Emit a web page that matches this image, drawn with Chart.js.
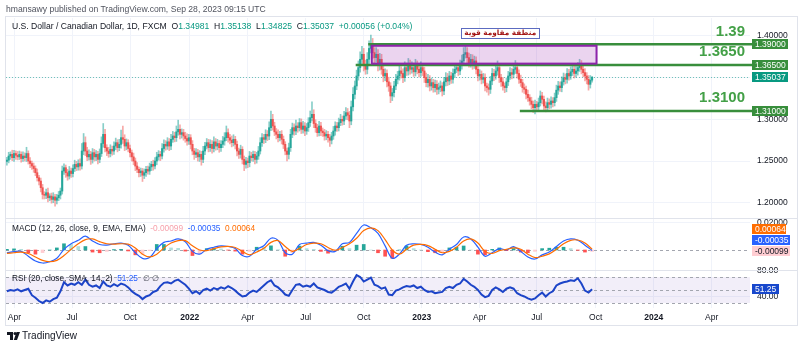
<!DOCTYPE html>
<html><head><meta charset="utf-8">
<script src="https://cdn.jsdelivr.net/npm/chart.js@4.4.0/dist/chart.umd.min.js"></script>
<style>
html,body{margin:0;padding:0;background:#fff;width:800px;height:348px;overflow:hidden;font-family:"Liberation Sans",Arial,sans-serif}
#c{position:absolute;left:0;top:0}
.t{position:absolute;white-space:nowrap;line-height:1}
</style></head><body>
<canvas id="c" width="800" height="348"></canvas>
<div class="t" style="left:6px;top:5px;font-size:8.6px;color:#50535e">hmansawy published on TradingView.com, Sep 28, 2023 09:15 UTC</div>
<div class="t" style="left:12px;top:22px;font-size:8.6px;color:#131722">U.S. Dollar / Canadian Dollar, 1D, FXCM&nbsp; O<span style="color:#089981">1.34981</span>&nbsp; H<span style="color:#089981">1.35138</span>&nbsp; L<span style="color:#089981">1.34825</span>&nbsp; C<span style="color:#089981">1.35037</span>&nbsp; <span style="color:#089981">+0.00056 (+0.04%)</span></div>
<div class="t" style="left:12px;top:224px;font-size:8.3px;color:#131722">MACD (12, 26, close, 9, EMA, EMA)&nbsp; <span style="color:#f7a1ab">-0.00099</span>&nbsp; <span style="color:#2962ff">-0.00035</span>&nbsp; <span style="color:#ff6d00">0.00064</span></div>
<div class="t" style="left:12px;top:274px;font-size:8.3px;color:#131722">RSI (20, close, SMA, 14, 2)&nbsp; <span style="color:#2962ff">51.25</span>&nbsp; <span style="color:#50535e">∅ ∅</span></div>
<div class="t" style="left:7px;top:331px;font-size:10px;color:#131722;display:flex;align-items:center;gap:2px">
<svg width="13" height="8" viewBox="0 0 13 8"><path d="M0 0h6v8H3V3H0z" fill="#131722"/><circle cx="8" cy="1.6" r="1.5" fill="#131722"/><path d="M9.5 0H13L10 8H6.8z" fill="#131722"/></svg>TradingView</div>
<script>
// ---------- DATA ----------
const BAR_STEP = 2;      // trading days per price bar
const MACD_STEP = 8;     // trading days per MACD point
const RSI_STEP = 4;      // trading days per RSI point
const firstOpen = 1.2495;

const closes = [
 1.251,1.256,1.258,1.254,1.259,1.257,1.255,1.258,1.253,1.256,
 1.254,1.259,1.250,1.247,1.244,1.241,1.236,1.230,1.226,1.218,
 1.210,1.209,1.212,1.206,1.208,1.204,1.207,1.203,1.206,1.209,
 1.214,1.238,1.242,1.236,1.232,1.238,1.235,1.241,1.246,1.243,
 1.247,1.244,1.262,1.272,1.262,1.255,1.258,1.252,1.260,1.255,
 1.258,1.252,1.259,1.271,1.282,1.266,1.262,1.259,1.264,1.262,
 1.268,1.272,1.266,1.270,1.278,1.276,1.268,1.272,1.265,1.260,
 1.255,1.250,1.244,1.240,1.236,1.238,1.233,1.236,1.240,1.238,
 1.243,1.246,1.244,1.250,1.255,1.258,1.256,1.265,1.270,1.268,
 1.273,1.268,1.276,1.280,1.278,1.285,1.288,1.282,1.284,1.280,
 1.277,1.274,1.278,1.270,1.262,1.258,1.260,1.255,1.258,1.252,
 1.262,1.268,1.272,1.266,1.270,1.265,1.273,1.268,1.271,1.266,
 1.270,1.274,1.278,1.284,1.278,1.275,1.272,1.276,1.270,1.262,
 1.258,1.264,1.252,1.246,1.250,1.248,1.256,1.254,1.258,1.252,
 1.256,1.262,1.272,1.278,1.276,1.282,1.280,1.290,1.300,1.292,
 1.285,1.282,1.278,1.282,1.276,1.270,1.262,1.258,1.266,1.282,
 1.290,1.286,1.292,1.290,1.296,1.288,1.292,1.286,1.290,1.296,
 1.302,1.306,1.295,1.290,1.284,1.292,1.286,1.284,1.280,1.282,
 1.278,1.275,1.280,1.286,1.292,1.290,1.296,1.300,1.298,1.304,
 1.308,1.305,1.298,1.315,1.330,1.340,1.352,1.362,1.372,1.378,
 1.365,1.360,1.372,1.385,1.390,1.380,1.374,1.378,1.365,1.372,
 1.360,1.352,1.355,1.345,1.340,1.328,1.332,1.340,1.348,1.352,
 1.358,1.355,1.350,1.362,1.358,1.365,1.360,1.362,1.357,1.364,
 1.360,1.356,1.362,1.358,1.350,1.344,1.348,1.340,1.344,1.338,
 1.342,1.336,1.338,1.340,1.334,1.345,1.350,1.346,1.352,1.348,
 1.355,1.360,1.362,1.358,1.365,1.370,1.378,1.380,1.374,1.368,
 1.372,1.366,1.370,1.360,1.352,1.354,1.348,1.350,1.340,1.338,
 1.336,1.346,1.355,1.352,1.358,1.362,1.350,1.345,1.340,1.338,
 1.345,1.352,1.356,1.354,1.360,1.362,1.355,1.348,1.344,1.338,
 1.336,1.330,1.326,1.322,1.318,1.314,1.318,1.315,1.320,1.328,
 1.324,1.316,1.314,1.320,1.318,1.322,1.320,1.326,1.335,1.340,
 1.338,1.345,1.350,1.348,1.355,1.352,1.357,1.360,1.355,1.358,
 1.362,1.365,1.360,1.356,1.352,1.348,1.342,1.347,1.35037];

// upper / lower shadows in pips
const wickUp = [
 35,45,30,50,38,32,45,40,30,50, 38,75,32,40,28,36,32,45,28,36,
 40,32,45,55,28,36,50,32,40,45, 36,60,45,32,40,55,36,45,50,36,
 45,55,90,110,70,45,55,36,50,40, 45,36,55,80,130,60,36,45,55,40,
 50,55,36,60,90,140,55,45,36,40, 32,45,36,40,28,36,32,45,36,40,
 45,36,50,40,55,45,36,60,55,45, 50,40,60,55,45,70,110,55,45,40,
 45,55,40,36,45,32,50,40,45,36, 55,45,50,40,55,45,60,40,50,36,
 45,55,60,80,45,40,50,55,36,40, 36,50,32,40,45,36,55,45,40,36,
 45,55,60,50,40,55,45,70,100,60, 45,40,55,36,45,40,32,36,55,60,
 55,45,70,40,50,45,55,40,50,60, 80,150,55,45,40,55,45,36,40,45,
 36,40,45,55,50,45,55,60,40,55, 60,50,45,70,80,60,70,80,90,95,
 70,60,80,90,110,70,60,80,55,70, 60,50,55,45,55,40,50,55,60,55,
 60,50,55,70,55,80,60,70,55,80, 60,55,70,50,45,55,60,45,55,40,
 50,45,55,60,40,55,60,50,55,45, 55,60,50,45,60,70,80,90,60,55,
 60,55,58,50,45,55,40,50,45,36, 45,55,60,50,58,80,45,40,50,36,
 45,55,60,50,70,85,55,45,50,40, 45,40,50,36,45,40,50,36,55,60,
 45,40,50,55,45,50,40,55,60,55, 50,60,55,45,58,50,60,55,45,55,
 60,70,55,45,50,40,45,55,12];
const wickDn = [
 45,32,40,36,45,50,36,32,45,36, 40,45,36,50,40,45,36,40,45,50,
 55,45,40,50,36,45,40,70,45,36, 45,36,40,55,50,36,45,40,36,45,
 40,50,36,45,55,45,40,60,45,50, 45,55,40,36,45,50,55,45,40,50,
 40,45,50,36,45,50,55,45,40,50, 50,45,55,40,50,45,75,40,45,36,
 40,45,50,36,45,40,55,36,45,50, 40,55,45,36,50,45,40,55,45,50,
 45,50,40,55,45,60,40,50,55,70, 40,45,36,50,45,55,40,50,45,55,
 45,40,50,36,55,45,50,40,55,60, 50,45,55,75,45,60,50,40,45,55,
 45,40,36,45,50,40,55,45,36,50, 45,55,50,40,55,50,45,80,55,45,
 40,50,45,55,40,50,45,55,40,45, 45,40,50,55,45,40,55,45,50,45,
 55,75,45,40,50,45,40,36,50,45, 40,55,80,45,50,55,45,50,55,60,
 70,60,55,60,55,70,60,55,70,60, 60,70,55,60,65,80,55,50,45,55,
 50,55,60,45,55,50,58,45,55,50, 55,50,45,55,58,50,55,60,50,55,
 50,60,55,50,60,45,50,55,45,50, 45,50,40,55,45,50,55,45,60,55,
 55,60,50,55,58,50,55,45,60,55, 70,50,45,55,40,50,58,55,50,60,
 50,45,40,55,45,50,55,50,45,55, 50,55,45,50,55,58,75,55,45,40,
 55,60,50,45,55,45,50,40,45,50, 45,50,40,55,45,50,40,45,55,45,
 50,45,55,50,58,55,70,45,25];

const macdLine = [
 -0.0020,-0.0012,-0.0010,-0.0045,-0.0080,-0.0094,-0.0085,-0.0060,0.0005,0.0045,
 0.0070,0.0100,0.0065,0.0040,0.0035,0.0045,0.0050,0.0035,-0.0020,-0.0060,
 -0.0055,0.0010,0.0055,0.0065,0.0080,0.0060,-0.0010,-0.0030,0.0005,0.0020,
 0.0030,0.0025,0.0010,-0.0040,-0.0045,0.0005,0.0030,0.0085,0.0070,-0.0020,
 -0.0030,0.0040,0.0050,0.0055,0.0035,-0.0005,-0.0010,0.0045,0.0055,0.0120,
 0.0180,0.0160,0.0120,0.0030,-0.0060,-0.0030,0.0035,0.0045,0.0040,0.0020,
 -0.0015,-0.0035,0.0005,0.0040,0.0094,0.0080,0.0020,-0.0045,-0.0020,0.0010,
 0.0000,0.0025,-0.0010,-0.0050,-0.0065,-0.0035,-0.0015,0.0025,0.0065,0.0080,
 0.0070,0.0035,-0.00035];
const signalLine = [
 -0.0025,-0.0020,-0.0015,-0.0025,-0.0050,-0.0075,-0.0085,-0.0075,-0.0040,0.0005,
 0.0045,0.0075,0.0080,0.0060,0.0045,0.0042,0.0045,0.0042,0.0015,-0.0030,
 -0.0050,-0.0030,0.0015,0.0050,0.0068,0.0068,0.0030,0.0000,-0.0005,0.0010,
 0.0022,0.0026,0.0018,-0.0010,-0.0035,-0.0015,0.0012,0.0055,0.0068,0.0025,
 -0.0010,0.0012,0.0040,0.0050,0.0045,0.0018,-0.0002,0.0018,0.0045,0.0085,
 0.0140,0.0160,0.0140,0.0075,0.0000,-0.0030,0.0005,0.0035,0.0040,0.0032,
 0.0005,-0.0020,-0.0010,0.0020,0.0065,0.0080,0.0050,-0.0010,-0.0025,-0.0005,
 0.0005,0.0015,0.0005,-0.0030,-0.0055,-0.0045,-0.0028,0.0005,0.0045,0.0070,
 0.0072,0.0050,0.00064];
const macdHist = [
 0.0005,0.0008,0.0005,-0.0020,-0.0030,-0.0019,0.0000,0.0015,0.0045,0.0040,
 0.0025,0.0025,-0.0015,-0.0020,-0.0010,0.0003,0.0005,-0.0007,-0.0035,-0.0030,
 -0.0005,0.0040,0.0040,0.0015,0.0012,-0.0008,-0.0040,-0.0030,0.0010,0.0010,
 0.0008,-0.0001,-0.0008,-0.0030,-0.0010,0.0020,0.0018,0.0030,0.0002,-0.0045,
 -0.0020,0.0028,0.0010,0.0005,-0.0010,-0.0023,-0.0008,0.0027,0.0010,0.0035,
 0.0040,0.0000,-0.0020,-0.0045,-0.0060,0.0000,0.0030,0.0010,0.0000,-0.0012,
 -0.0020,-0.0015,0.0015,0.0020,0.0029,0.0000,-0.0030,-0.0035,0.0005,0.0015,
 -0.0005,0.0010,-0.0015,-0.0020,-0.0010,0.0010,0.0013,0.0020,0.0020,0.0010,
 -0.0002,-0.0015,-0.00099];
const rsiValues = [
 48,50,49,51,48,50,52,42,38,33, 30,34,32,36,38,48,62,57,60,58,
 62,58,66,58,55,57,53,63,57,55, 59,56,60,58,54,48,44,41,36,40,
 42,47,49,56,61,62,60,64,66,62, 58,52,45,48,44,50,52,49,53,51,
 54,52,56,53,49,44,40,41,46,49, 47,52,57,62,65,57,54,49,43,41,
 50,58,59,55,57,55,60,54,52,50, 47,46,50,55,57,60,52,63,73,70,
 63,66,69,58,56,52,54,43,42,49, 51,54,56,55,57,53,55,50,47,48,
 45,46,47,53,55,53,58,60,67,63, 58,55,50,43,39,41,50,54,51,47,
 52,54,52,45,42,40,37,35,37,42, 46,40,45,48,57,60,62,63,65,64,
 68,60,49,46,51.25];

// time axis (trading-day index) and labels
const timeTickDays   = [8.5, 73, 138, 205, 270, 335, 400, 465, 530, 594, 660, 725, 790];
const timeTickLabels = ['Apr','Jul','Oct','2022','Apr','Jul','Oct','2023','Apr','Jul','Oct','2024','Apr'];
const priceTicks = [1.20, 1.25, 1.30, 1.35, 1.40];
const macdTicks = [0.02];
const rsiTicks = [80, 40];
const rsiBands = [70, 50, 30];

// drawings
const levelPrices = [1.39, 1.365, 1.31];
const levelStartDays = [405, 391, 575];
const levelTexts = ['1.39', '1.3650', '1.3100'];
const levelTextPrices = [1.405, 1.3808, 1.3256];
const zoneDays = [409, 661];
const zonePrices = [1.39, 1.365];
const zoneNote = 'منطقة مقاومة قوية';
const zoneNoteAt = [553, 1.4035];
const lastPrice = 1.35037;
const lastMacd = -0.00035, lastSignal = 0.00064, lastHist = -0.00099, lastRsi = 51.25;

// ---------- BUILD ----------
const FONT = '"Liberation Sans", Arial, sans-serif';
const opens = closes.map((c, i) => i === 0 ? firstOpen : closes[i - 1]);
const highs = closes.map((c, i) => Math.max(opens[i], c) + (wickUp[i] ?? 40) / 10000);
const lows  = closes.map((c, i) => Math.min(opens[i], c) - (wickDn[i] ?? 40) / 10000);
const upC = '#26a69a', dnC = '#ef5350';
const isUp = closes.map((c, i) => c >= opens[i]);

const wickData = closes.map((c, i) => ({x: i * BAR_STEP, y: [lows[i], highs[i]]}));
const bodyData = closes.map((c, i) => ({x: i * BAR_STEP, y: [opens[i], c === opens[i] ? c + 0.0002 : c]}));
const histColors = macdHist.map((h, i) => {
  const prev = i ? macdHist[i - 1] : 0;
  if (h >= 0) return h >= prev ? '#26a69a' : '#b2dfdb';
  return h <= prev ? '#ff5252' : '#ffcdd2';
});

const yFit = s => { s.width = 47; };
const commonY = (extra) => Object.assign({
  type: 'linear', position: 'right', stack: 'panes',
  grid: {color: '#f0f3fa', drawTicks: false}, border: {display: false},
  afterFit: yFit
}, extra);

const overlay = {
  id: 'overlay',
  beforeDatasetsDraw(chart) {
    const {ctx, chartArea: a, scales: s} = chart;
    ctx.save();
    const y70 = s.yRsi.getPixelForValue(70), y30 = s.yRsi.getPixelForValue(30);
    ctx.fillStyle = 'rgba(126,87,194,0.1)';
    ctx.fillRect(a.left, y70, a.right - a.left, y30 - y70);
    ctx.lineWidth = 1;
    ctx.strokeStyle = '#a3a6af';
    ctx.setLineDash([3, 3]);
    const hl = (y) => { ctx.beginPath(); ctx.moveTo(a.left, y); ctx.lineTo(a.right, y); ctx.stroke(); };
    rsiBands.forEach(v => hl(Math.round(s.yRsi.getPixelForValue(v)) + 0.5));
    hl(Math.round(s.yMacd.getPixelForValue(0)) + 0.5);
    ctx.strokeStyle = 'rgba(8,153,129,0.55)';
    ctx.setLineDash([1, 2]);
    hl(Math.round(s.y.getPixelForValue(lastPrice)) + 0.5);
    ctx.restore();
  },
  afterDraw(chart) {
    const {ctx, chartArea: a, scales: s} = chart;
    const X = v => s.x.getPixelForValue(v), Y = v => s.y.getPixelForValue(v);
    ctx.save();
    ctx.save();
    ctx.beginPath(); ctx.rect(a.left, s.y.top, a.right - a.left + 3, s.y.bottom - s.y.top); ctx.clip();
    const zx1 = X(zoneDays[0]), zx2 = X(zoneDays[1]);
    const zy1 = Y(zonePrices[0]), zy2 = Y(zonePrices[1]);
    ctx.fillStyle = 'rgba(156,39,176,0.2)';
    ctx.fillRect(zx1, zy1, zx2 - zx1, zy2 - zy1);
    ctx.strokeStyle = '#388e3c'; ctx.lineWidth = 2.5;
    levelPrices.forEach((p, i) => {
      const y = Y(p);
      ctx.beginPath(); ctx.moveTo(X(levelStartDays[i]), y); ctx.lineTo(a.right + 3, y); ctx.stroke();
    });
    ctx.strokeStyle = '#8e24aa'; ctx.lineWidth = 2;
    ctx.strokeRect(zx1, zy1 + 1.5, zx2 - zx1, zy2 - zy1 - 3);
    ctx.restore();
    ctx.fillStyle = '#43a047';
    ctx.font = 'bold 15px ' + FONT;
    ctx.textAlign = 'right'; ctx.textBaseline = 'middle';
    levelTexts.forEach((t, i) => ctx.fillText(t, a.right - 5, Y(levelTextPrices[i])));
    ctx.font = 'bold 7.3px "DejaVu Sans", sans-serif';
    ctx.textAlign = 'center';
    const nw = ctx.measureText(zoneNote).width + 6;
    const nx = X(zoneNoteAt[0]), ny = Y(zoneNoteAt[1]);
    ctx.fillStyle = '#ffffff';
    ctx.fillRect(nx - nw / 2, ny - 5, nw, 10);
    ctx.strokeStyle = '#5c6bc0'; ctx.lineWidth = 1;
    ctx.strokeRect(Math.round(nx - nw / 2) + 0.5, Math.round(ny - 5) + 0.5, Math.round(nw), 10);
    ctx.fillStyle = '#a31515';
    ctx.fillText(zoneNote, nx, ny + 0.5);
    ctx.strokeStyle = '#e0e3eb'; ctx.lineWidth = 1;
    [s.y.bottom, s.yMacd.bottom].forEach(yb => {
      const y = Math.round(yb) + 0.5;
      ctx.beginPath(); ctx.moveTo(6, y); ctx.lineTo(797, y); ctx.stroke();
    });
    ctx.strokeRect(5.5, 16.5, 792, 309);
    const tag = (y, w, bg, fg, text) => {
      ctx.fillStyle = bg;
      ctx.fillRect(a.right + 2, Math.round(y - 5), w, 10);
      ctx.fillStyle = fg; ctx.font = '8.5px ' + FONT;
      ctx.textAlign = 'left'; ctx.textBaseline = 'middle';
      ctx.fillText(text, a.right + 5, Math.round(y - 5) + 5.5);
    };
    levelPrices.forEach(p => tag(Y(p), 36, '#388e3c', '#ffffff', p.toFixed(5)));
    tag(Y(lastPrice), 36, '#089981', '#ffffff', lastPrice.toFixed(5));
    const yH = s.yMacd.getPixelForValue(lastHist);
    const yM = Math.min(s.yMacd.getPixelForValue(lastMacd), yH - 11);
    const yS = Math.min(s.yMacd.getPixelForValue(lastSignal), yM - 11);
    tag(yH, 38, '#ffcdd2', '#131722', lastHist.toFixed(5));
    tag(yM, 38, '#2962ff', '#ffffff', lastMacd.toFixed(5));
    tag(yS, 34, '#ff6d00', '#ffffff', lastSignal.toFixed(5));
    tag(s.yRsi.getPixelForValue(lastRsi), 27, '#1848cc', '#ffffff', lastRsi.toFixed(2));
    ctx.restore();
  }
};

new Chart(document.getElementById('c'), {
  type: 'bar',
  data: {
    datasets: [
      {type: 'bar', label: 'wicks', data: wickData, yAxisID: 'y', grouped: false, order: 3,
       barThickness: 1, backgroundColor: isUp.map(u => u ? 'rgba(38,166,154,0.55)' : 'rgba(239,83,80,0.5)')},
      {type: 'bar', label: 'bodies', data: bodyData, yAxisID: 'y', grouped: false, order: 2,
       barThickness: 1.4, backgroundColor: isUp.map(u => u ? upC : dnC)},
      {type: 'bar', label: 'hist', data: macdHist.map((v, i) => ({x: i * MACD_STEP, y: v})), yAxisID: 'yMacd',
       grouped: false, order: 4, barThickness: 3, backgroundColor: histColors},
      {type: 'line', label: 'MACD', data: macdLine.map((v, i) => ({x: i * MACD_STEP, y: v})), yAxisID: 'yMacd',
       borderColor: '#2962ff', borderWidth: 1.2, pointRadius: 0, tension: 0.35, order: 1},
      {type: 'line', label: 'Signal', data: signalLine.map((v, i) => ({x: i * MACD_STEP, y: v})), yAxisID: 'yMacd',
       borderColor: '#ff6d00', borderWidth: 1.2, pointRadius: 0, tension: 0.35, order: 0},
      {type: 'line', label: 'RSI', data: rsiValues.map((v, i) => ({x: i * RSI_STEP, y: v})), yAxisID: 'yRsi',
       borderColor: '#1c44c8', borderWidth: 2, pointRadius: 0, tension: 0, order: 0}
    ]
  },
  options: {
    responsive: false, animation: false, devicePixelRatio: 1, events: [],
    layout: {padding: {left: 6, top: 18, right: 3, bottom: 23}},
    plugins: {legend: {display: false}, tooltip: {enabled: false}},
    scales: {
      x: {
        type: 'linear', position: 'bottom', min: -1, max: 833, offset: false,
        grid: {color: '#f0f3fa', drawTicks: false, offset: false}, border: {display: false},
        afterBuildTicks: s => { s.ticks = timeTickDays.map(v => ({value: v})); },
        afterFit: s => { s.height = 17; },
        ticks: {
          autoSkip: false, maxRotation: 0, padding: 5, color: '#131722',
          callback: v => timeTickLabels[timeTickDays.indexOf(v)],
          font: c => ({size: 8.5, family: FONT,
            weight: /^\d{4}$/.test(timeTickLabels[timeTickDays.indexOf(c.tick && c.tick.value)] || '') ? 'bold' : 'normal'})
        }
      },
      y: commonY({
        stackWeight: 200, min: 1.1817, max: 1.4215,
        afterBuildTicks: s => { s.ticks = priceTicks.map(v => ({value: v})); },
        ticks: {autoSkip: false, padding: 7, color: '#131722', font: {size: 8.5, family: FONT}, callback: v => v.toFixed(5)}
      }),
      yMacd: commonY({
        stackWeight: 52, min: -0.01444, max: 0.0231,
        afterBuildTicks: s => { s.ticks = macdTicks.map(v => ({value: v})); },
        ticks: {autoSkip: false, padding: 7, color: '#131722', font: {size: 8.5, family: FONT}, callback: v => v.toFixed(5)}
      }),
      yRsi: commonY({
        stackWeight: 38, min: 22.3, max: 80.77,
        afterBuildTicks: s => { s.ticks = rsiTicks.map(v => ({value: v})); },
        ticks: {autoSkip: false, padding: 7, color: '#131722', font: {size: 8.5, family: FONT}, callback: v => v.toFixed(2)}
      })
    }
  },
  plugins: [overlay]
});
</script>
</body></html>
